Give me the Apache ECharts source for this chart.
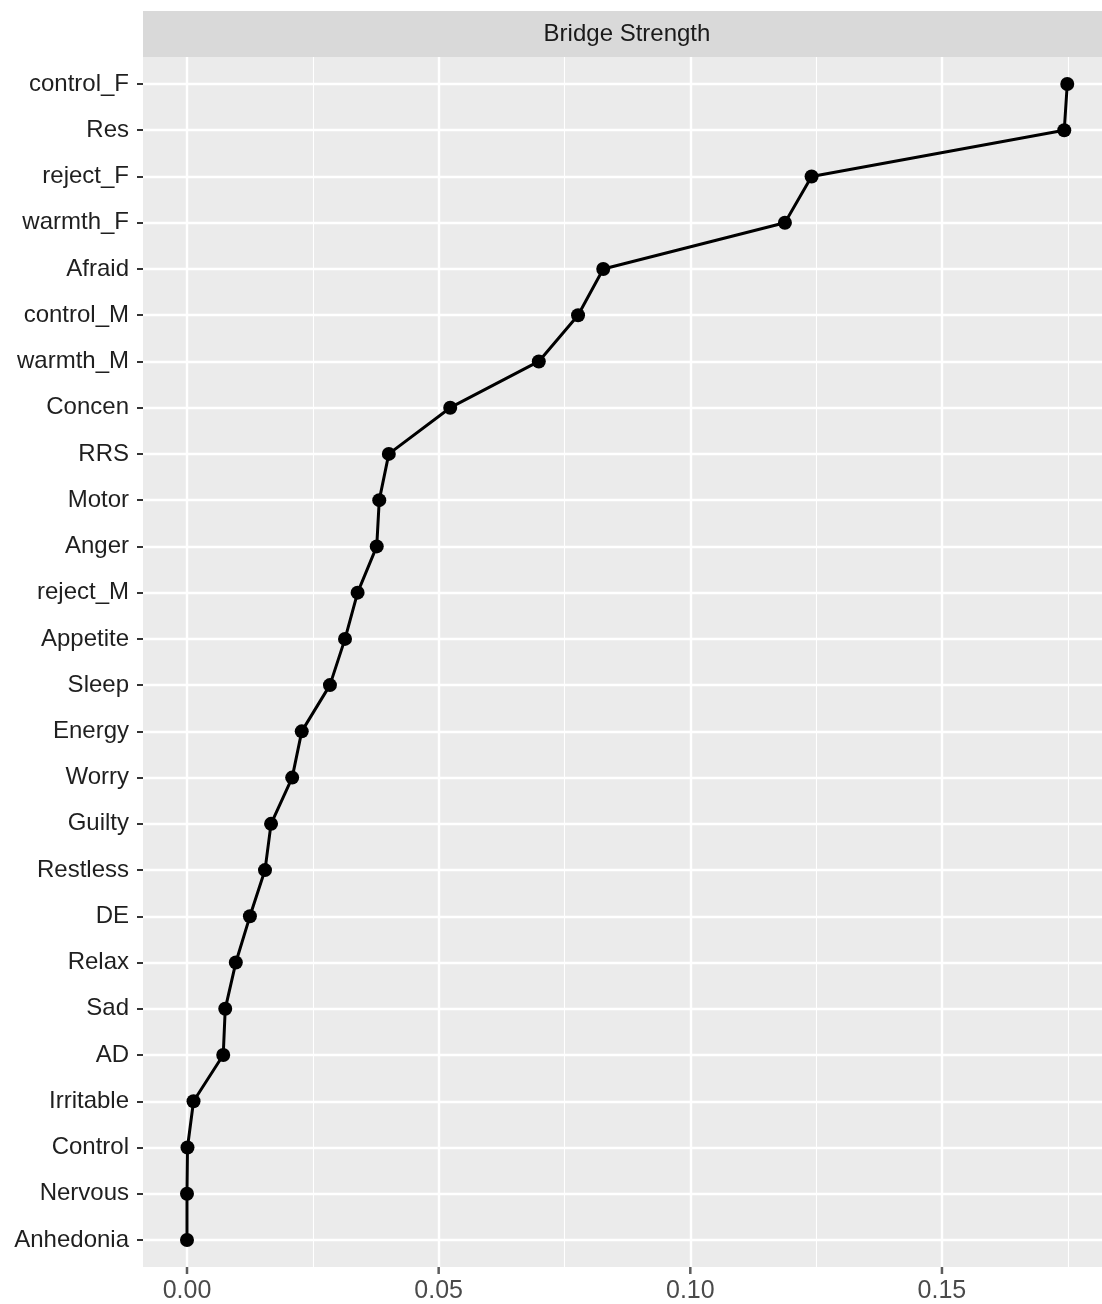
<!DOCTYPE html>
<html>
<head>
<meta charset="utf-8">
<script src="https://cdn.jsdelivr.net/npm/echarts@6/dist/echarts.min.js"></script>
<style>
html,body{margin:0;padding:0;background:#fff;}
#chart{width:1102px;height:1304px;}
</style>
</head>
<body>
<div id="chart"></div>
<script>
const categories = ["control_F","Res","reject_F","warmth_F","Afraid","control_M","warmth_M","Concen","RRS","Motor","Anger","reject_M","Appetite","Sleep","Energy","Worry","Guilty","Restless","DE","Relax","Sad","AD","Irritable","Control","Nervous","Anhedonia"];
const bridgeStrength = [0.1749,0.1743,0.1241,0.1188,0.0827,0.0777,0.0699,0.0523,0.0401,0.0382,0.0377,0.0339,0.0314,0.0284,0.0228,0.0209,0.0167,0.0155,0.0125,0.0097,0.0076,0.0072,0.0013,0.0001,0.0,0.0];
const xTickLabels = ["0.00", "0.05", "0.10", "0.15"];
const xTickValues = [0, 0.05, 0.10, 0.15];
const xTickStep = 0.05;
const stripTitle = "Bridge Strength";

const XMIN = -0.00874, XMAX = 0.1818;
const PX_PER_UNIT = 5033;             // panel scale: 0.05 = ~251.7 px
const X0 = 187;                        // pixel of x = 0
const FONT = "'Liberation Sans', Arial, Helvetica, sans-serif";
const lastTickRight = 1102 - (X0 + (xTickLabels.length - 1) * xTickStep * PX_PER_UNIT);

const chart = echarts.init(document.getElementById('chart'), null, {renderer: 'canvas'});
chart.setOption({
  animation: false,
  backgroundColor: '#ffffff',
  graphic: [
    {type: 'rect', left: 143, top: 11, shape: {width: 959, height: 46}, style: {fill: '#D9D9D9'}, z: 0},
    {type: 'text', x: 627, y: 34, style: {text: stripTitle, fill: '#1a1a1a', font: '24px ' + FONT, textAlign: 'center', textVerticalAlign: 'middle'}, z: 1}
  ],
  grid: [
    {left: 143, right: 0, top: 57, bottom: 37, show: true, backgroundColor: '#EBEBEB', borderWidth: 0, containLabel: false},
    {left: 143, right: 0, top: 84, bottom: 64, show: false, containLabel: false},
    {left: X0, right: 0, top: 57, bottom: 37, show: false, containLabel: false},
    {left: X0, right: lastTickRight, top: 57, bottom: 37, show: false, containLabel: false},
    {left: X0, right: 0, top: 1267, bottom: 30, show: false, containLabel: false}
  ],
  xAxis: [
    {type: 'value', gridIndex: 0, min: XMIN, max: XMAX, show: false},
    {type: 'value', gridIndex: 1, min: XMIN, max: XMAX, show: false},
    {
      type: 'value', gridIndex: 2, min: 0, max: XMAX, interval: xTickStep,
      axisLine: {show: false, onZero: false}, axisTick: {show: false}, axisLabel: {show: false},
      splitLine: {show: true, showMaxLine: false, lineStyle: {color: '#ffffff', width: 2.4}}
    },
    {
      type: 'value', gridIndex: 2, min: 0, max: XMAX, interval: xTickStep / 2,
      axisLine: {show: false, onZero: false}, axisTick: {show: false}, axisLabel: {show: false},
      splitLine: {show: true, showMinLine: false, showMaxLine: false, lineStyle: {color: '#ffffff', width: 1.1}}
    },
    {
      type: 'category', gridIndex: 3, data: xTickLabels, boundaryGap: false, position: 'bottom',
      axisLine: {show: false, onZero: false},
      axisTick: {show: false},
      axisLabel: {show: true, interval: 0, fontSize: 25, color: '#4a4a4a', fontFamily: FONT, margin: 13},
      splitLine: {show: false}
    },
    {type: 'value', gridIndex: 4, min: 0, max: XMAX, show: false}
  ],
  yAxis: [
    {type: 'value', gridIndex: 0, min: 0, max: 1, show: false},
    {
      type: 'category', gridIndex: 1, data: categories, inverse: true, boundaryGap: false,
      position: 'left',
      axisLine: {show: false, onZero: false},
      axisTick: {show: true, length: 6, lineStyle: {color: '#333', width: 2}},
      axisLabel: {fontSize: 24, color: '#1f1f1f', fontFamily: FONT, margin: 14},
      splitLine: {show: true, lineStyle: {color: '#ffffff', width: 2.4}}
    },
    {type: 'value', gridIndex: 2, min: 0, max: 1, show: false},
    {type: 'value', gridIndex: 3, min: 0, max: 1, show: false},
    {type: 'value', gridIndex: 4, min: 0, max: 1, show: false}
  ],
  series: [
    {
      type: 'line', xAxisIndex: 1, yAxisIndex: 1,
      data: categories.map((c, i) => [bridgeStrength[i], c]),
      symbol: 'circle', symbolSize: 14, showAllSymbol: true,
      lineStyle: {color: '#000', width: 3},
      itemStyle: {color: '#000'},
      z: 5
    },
    {
      name: 'x ticks', type: 'scatter', xAxisIndex: 5, yAxisIndex: 4,
      data: xTickValues.map(v => [v, 0.5]),
      symbol: 'rect', symbolSize: [2.5, 7], silent: true,
      itemStyle: {color: '#333'}
    }
  ]
});
</script>
</body>
</html>
